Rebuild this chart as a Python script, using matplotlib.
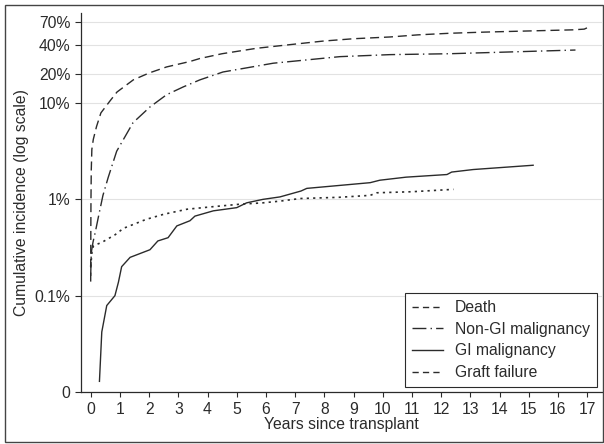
import matplotlib.pyplot as plt
from matplotlib.lines import Line2D
from matplotlib.patches import Rectangle

plt.rcParams["font.family"] = ["Liberation Sans", "DejaVu Sans"]
plt.rcParams["lines.scale_dashes"] = False

# Cumulative incidence (%)
death_years = [0.0, 0.005, 0.01, 0.02, 0.04, 0.09, 0.2, 0.35, 0.66, 0.9, 1.46, 2.0,
               2.6, 3.4, 3.74, 4.5, 5.68, 6.7, 7.97, 9.0, 10.25, 11.2, 12.3, 13.5,
               14.5, 15.5, 16.5, 16.9, 17.03]
death_pct = [0.14, 0.5, 1.0, 2.0, 3.3, 4.2, 5.7, 7.9, 10.5, 13.0, 17.4, 20.5,
             23.7, 27.0, 29.0, 32.5, 37.0, 40.0, 44.0, 46.5, 48.5, 51.0, 53.0, 54.5,
             55.5, 56.5, 57.5, 58.5, 61.0]

nongi_years = [0.0, 0.02, 0.08, 0.16, 0.27, 0.42, 0.6, 0.89, 1.45, 2.03, 2.6, 3.17,
               3.74, 4.53, 6.25, 8.53, 10.25, 12.3, 14.5, 16.6]
nongi_pct = [0.16, 0.28, 0.36, 0.46, 0.67, 1.1, 1.69, 3.16, 6.25, 9.1, 12.2, 14.7,
             17.4, 21.0, 25.9, 30.3, 31.8, 32.5, 34.0, 35.5]

gi_years = [0.3, 0.38, 0.55, 0.83, 0.95, 1.06, 1.35, 2.03, 2.3, 2.65, 2.95, 3.4,
            3.57, 4.2, 5.0, 5.34, 5.9, 6.48, 7.2, 7.4, 9.57, 9.9, 10.8, 12.2,
            12.36, 13.1, 15.15]
gi_pct = [0.0129, 0.042, 0.079, 0.1, 0.138, 0.2, 0.25, 0.30, 0.37, 0.40, 0.53, 0.60,
          0.67, 0.76, 0.82, 0.92, 1.0, 1.06, 1.22, 1.30, 1.49, 1.58, 1.70, 1.81,
          1.92, 2.04, 2.26]

graft_years = [0.0, 0.05, 0.1, 0.4, 0.84, 1.12, 1.9, 2.5, 3.3, 4.2, 5.1, 5.9, 6.5,
               7.17, 8.5, 9.57, 9.8, 11.0, 12.42]
graft_pct = [0.2, 0.3, 0.33, 0.36, 0.43, 0.5, 0.62, 0.70, 0.79, 0.84, 0.89, 0.92,
             0.96, 1.02, 1.05, 1.10, 1.17, 1.2, 1.27]

y_ticks = [0.01, 0.1, 1, 10, 20, 40, 70]
y_labels = ["0", "0.1%", "1%", "10%", "20%", "40%", "70%"]
x_ticks = list(range(18))

ink = "#2b2b2b"
fs = 11.3
fig = plt.figure(figsize=(6.04, 4.44), dpi=100)
ax = fig.add_axes([0.1336, 0.1171, 0.8627, 0.8536])

ax.plot(death_years, death_pct, color=ink, lw=1.0, dashes=(6.5, 3.5))
ax.plot(nongi_years, nongi_pct, color=ink, lw=1.0, dashes=(10, 3, 1, 3))
ax.plot(gi_years, gi_pct, color=ink, lw=1.0)
ax.plot(graft_years, graft_pct, color=ink, lw=1.2, dashes=(1.6, 3))

ax.set_yscale("log")
ax.set_ylim(0.01, 86)
ax.set_xlim(-0.342, 17.5)
ax.set_yticks(y_ticks)
ax.set_yticklabels(y_labels)
ax.minorticks_off()
ax.set_xticks(x_ticks)

ax.grid(axis="y", color="#e2e2e2", lw=0.8)
ax.set_axisbelow(True)
for side in ["top", "right"]:
    ax.spines[side].set_visible(False)
for side in ["left", "bottom"]:
    ax.spines[side].set_color(ink)
    ax.spines[side].set_linewidth(0.9)
ax.tick_params(axis="y", length=4.3, width=0.8, pad=3, colors=ink, labelsize=fs)
ax.tick_params(axis="x", length=3.6, width=0.8, pad=3.5, colors=ink, labelsize=fs)

ax.set_xlabel("Years since transplant", fontsize=fs, color=ink, labelpad=0)
ax.set_ylabel("Cumulative incidence (log scale)", fontsize=fs, color=ink, labelpad=4)

handles = [
    Line2D([], [], color=ink, lw=1.0, dashes=(4.5, 3)),
    Line2D([], [], color=ink, lw=1.0, dashes=(10, 3, 1, 3)),
    Line2D([], [], color=ink, lw=1.0),
    Line2D([], [], color=ink, lw=1.0, dashes=(4.5, 3)),
]
labels = ["Death", "Non-GI malignancy", "GI malignancy", "Graft failure"]
leg = ax.legend(handles, labels, loc="lower right", bbox_to_anchor=(0.991, 0.013),
                fontsize=fs, frameon=True, fancybox=False, framealpha=1,
                edgecolor=ink, handlelength=2.0, handletextpad=0.74,
                labelspacing=0.42, borderpad=0.45, borderaxespad=0)
leg.get_frame().set_linewidth(0.8)
for t in leg.get_texts():
    t.set_color(ink)

fig.patches.append(Rectangle((5 / 604, 2 / 444), 598 / 604, 437 / 444,
                             transform=fig.transFigure, fill=False,
                             edgecolor="#444444", lw=1.0))

fig.savefig("out.png", dpi=100)
